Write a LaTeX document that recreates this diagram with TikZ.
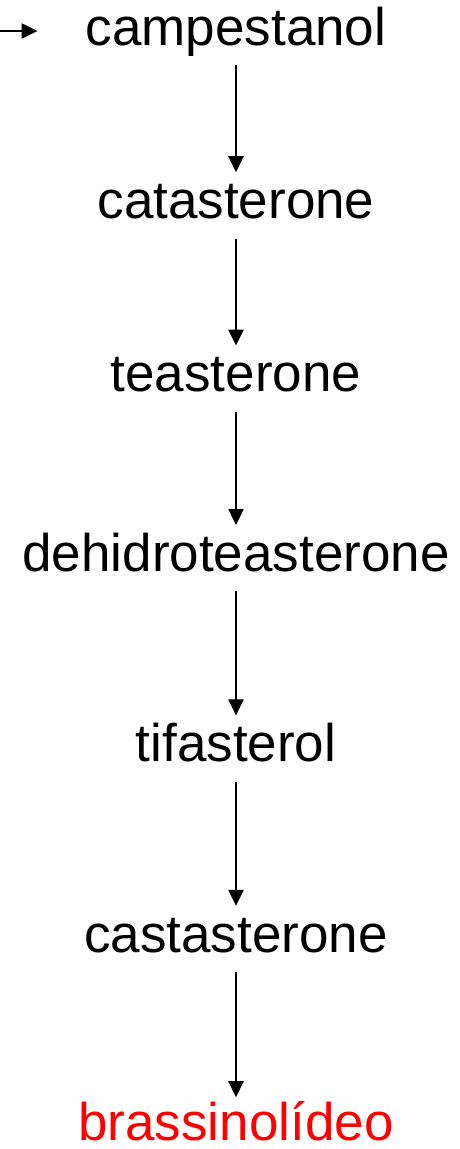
\documentclass[tikz,border=0pt]{standalone}
\usepackage{fontspec}
\setmainfont{Liberation Sans}
\usepackage{xcolor}
\usetikzlibrary{arrows.meta, positioning}

\begin{document}
\begin{tikzpicture}[x=1pt, y=1pt, node distance=0mm,
  comp/.style={inner sep=0pt, text height=40pt, text depth=12pt,
               font=\fontsize{53}{60}\selectfont},
  final/.style={comp, text depth=0pt, text=red},
  a/.style={-{Triangle[length=16pt, width=15pt]}, line width=2.4pt, draw=black,
            shorten <=8pt, shorten >=6pt}]
  \useasboundingbox (0,0) rectangle (459,-1149);

  \node[comp, anchor=base] (camp) at (236,-45) {campestanol};
  \node[comp, below=121pt of camp] (cata) {catasterone};
  \node[comp, below=121pt of cata] (teas) {teasterone};
  \node[comp, below=127pt of teas] (dehi) {dehidroteasterone};
  \node[comp, below=138pt of dehi] (tifa) {tifasterol};
  \node[comp, below=138pt of tifa] (cast) {castasterone};
  \node[final, below=136pt of cast] (brass) {brassinolídeo};
  \coordinate (src) at (0,-31);

  \draw[a, shorten <=0pt, shorten >=48pt] (src) -- (camp.west);
  \draw[a] (camp) -- (cata);
  \draw[a] (cata) -- (teas);
  \draw[a] (teas) -- (dehi);
  \draw[a] (dehi) -- (tifa);
  \draw[a] (tifa) -- (cast);
  \draw[a, shorten >=3pt] (cast) -- (brass);
\end{tikzpicture}
\end{document}
